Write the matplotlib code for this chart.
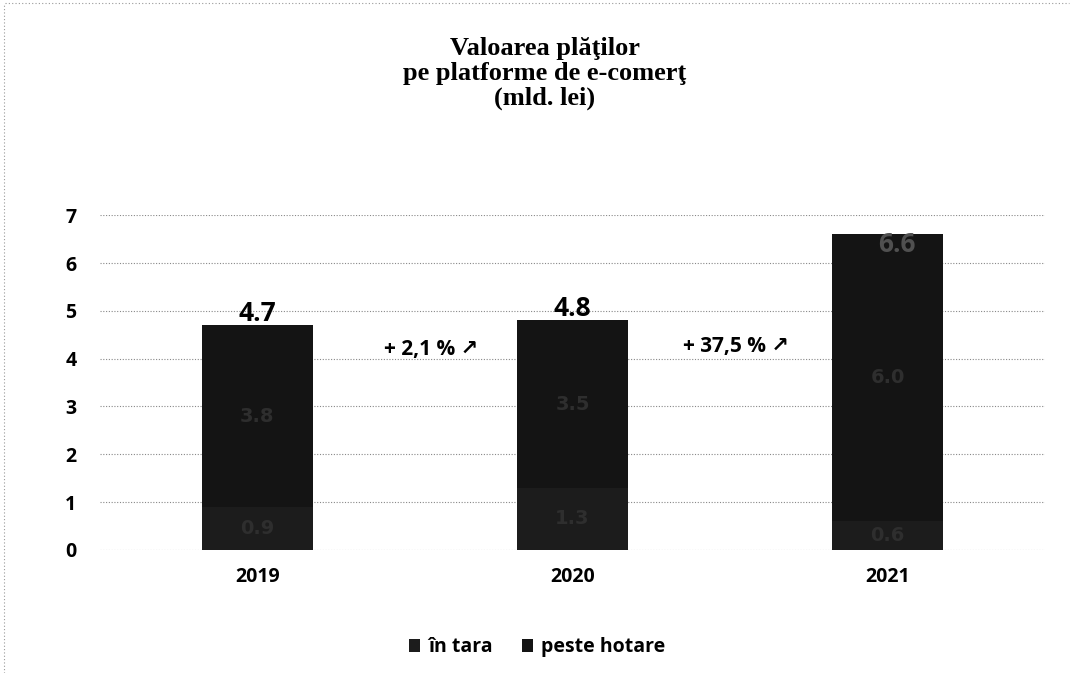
import numpy as np
import matplotlib
matplotlib.use("Agg")
import matplotlib.pyplot as plt

# data
years = ["2019", "2020", "2021"]
in_tara = [0.9, 1.3, 0.6]
peste_hotare = [3.8, 3.5, 6.0]
totals = [4.7, 4.8, 6.6]
growth_labels = ["+ 2,1 % \u2197", "+ 37,5 % \u2197"]

fig = plt.figure(figsize=(10.74, 6.73), dpi=100)
ax = fig.add_axes([0.093, 0.183, 0.88, 0.497])

x = np.arange(len(years))
w = 0.35
ax.bar(x, in_tara, w, color="#1c1c1c", label="în tara", zorder=2)
ax.bar(x, peste_hotare, w, bottom=in_tara, color="#141414", label="peste hotare", zorder=2)

# inner segment labels (barely visible in the scan)
for i in range(len(years)):
    ax.text(x[i], in_tara[i] / 2, f"{in_tara[i]:.1f}", ha="center", va="center",
            color="#2e2e2e", fontsize=14, fontweight="bold", zorder=3)
    ax.text(x[i], in_tara[i] + peste_hotare[i] / 2, f"{peste_hotare[i]:.1f}",
            ha="center", va="center", color="#2e2e2e", fontsize=14,
            fontweight="bold", zorder=3)

# totals
for i in range(len(years)):
    if totals[i] > 6:
        ax.text(x[i] + 0.03, totals[i] + 0.08, f"{totals[i]:.1f}", ha="center", va="top",
                color="#505050", fontsize=19, fontweight="bold", family="Open Sans", zorder=3)
    else:
        ax.text(x[i], totals[i] - 0.04, f"{totals[i]:.1f}", ha="center", va="bottom",
                color="black", fontsize=19, fontweight="bold", family="Open Sans", zorder=3)

# growth annotations between bars
ax.text(0.55, 4.2, growth_labels[0], ha="center", va="center", fontsize=15,
        fontweight="bold", family=["Open Sans", "DejaVu Sans"], zorder=3)
ax.text(1.52, 4.25, growth_labels[1], ha="center", va="center", fontsize=15,
        fontweight="bold", family=["Open Sans", "DejaVu Sans"], zorder=3)

ax.set_xlim(-0.5, 2.5)
ax.set_ylim(0, 7)
ax.set_yticks(range(0, 8))
ax.set_xticks(x)
ax.set_xticklabels(years)
for lab in ax.get_xticklabels() + ax.get_yticklabels():
    lab.set_fontweight("bold")
    lab.set_fontsize(14)
    lab.set_family("Open Sans")
ax.tick_params(axis="both", length=0)
ax.tick_params(axis="x", pad=12)
ax.tick_params(axis="y", pad=17)
ax.yaxis.grid(True, linestyle=(0, (1, 1.5)), color="#888888", linewidth=0.8, zorder=0)
for s in ax.spines.values():
    s.set_visible(False)

fig.text(0.507, 0.891, "Valoarea plăţilor\npe platforme de e-comerţ\n(mld. lei)",
         ha="center", va="center", fontsize=19, fontweight="bold",
         family="Liberation Serif", linespacing=1.1)

leg = fig.legend(loc="center", bbox_to_anchor=(0.5, 0.038), ncol=2, frameon=False,
                 handlelength=0.6, handleheight=0.6, handletextpad=0.4, columnspacing=1.5,
                 prop={"family": "Open Sans", "weight": "bold", "size": 14})

# faint dotted scan border
fig.add_artist(plt.Line2D([0.005, 0.995], [0.995, 0.995], transform=fig.transFigure,
                          color="#999999", linestyle=(0, (1, 2)), linewidth=0.8))
fig.add_artist(plt.Line2D([0.004, 0.004], [0.0, 0.995], transform=fig.transFigure,
                          color="#999999", linestyle=(0, (1, 2)), linewidth=0.8))

fig.savefig("out.png", dpi=100)
